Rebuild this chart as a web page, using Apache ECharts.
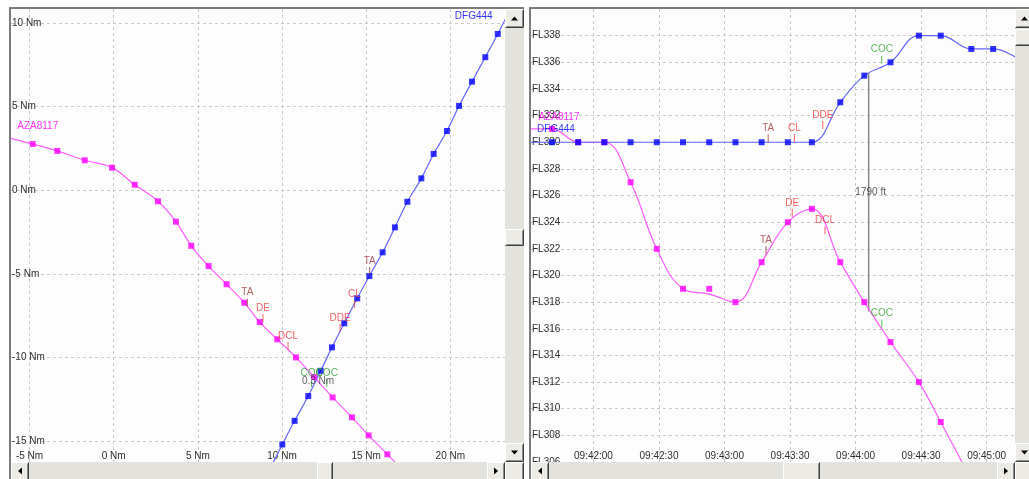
<!DOCTYPE html>
<html>
<head>
<meta charset="utf-8">
<script src="https://cdn.jsdelivr.net/npm/echarts@6/dist/echarts.min.js"></script>
<style>
  html, body { margin: 0; padding: 0; background: #ffffff; }
  #chart { width: 1029px; height: 479px; }
</style>
</head>
<body>
<div id="chart"></div>
<script>
// ---------- Horizontal view: positions in Nm ----------
const planTicksX = [-5, 0, 5, 10, 15, 20];
const planTicksY = [-15, -10, -5, 0, 5, 10];

const azaPlanX = [-6.25, -4.81, -3.35, -1.72, -0.10, 1.25, 2.63, 3.70, 4.61, 5.64, 6.71, 7.76, 8.68, 9.72, 10.83, 11.90, 13.01, 14.16, 15.15, 16.26, 17.35];
const azaPlanY = [3.15, 2.77, 2.36, 1.80, 1.36, 0.34, -0.65, -1.87, -3.31, -4.52, -5.61, -6.71, -7.87, -8.90, -9.98, -11.15, -12.37, -13.56, -14.64, -15.77, -16.90];

const dfgPlanX = [9.28, 10.02, 10.75, 11.56, 12.30, 12.97, 13.70, 14.47, 15.19, 15.98, 16.71, 17.45, 18.28, 19.01, 19.80, 20.52, 21.29, 22.08, 22.82, 23.55];
const dfgPlanY = [-16.65, -15.18, -13.77, -12.29, -10.78, -9.38, -7.94, -6.45, -5.12, -3.70, -2.21, -0.68, 0.72, 2.18, 3.55, 5.05, 6.50, 7.96, 9.35, 10.80];

const azaPlanEvents = ['TA', 'DE', 'DCL', 'COC'];
const azaPlanEventX = [7.94, 8.87, 10.36, 11.76];
const azaPlanEventY = [-6.95, -7.87, -9.54, -11.75];

const dfgPlanEvents = ['TA', 'CL', 'DDE', 'COC'];
const dfgPlanEventX = [15.21, 14.30, 13.45, 12.66];
const dfgPlanEventY = [-5.06, -7.03, -8.46, -11.75];

const cpaText = '0.3 Nm';
const cpaPoint = [12.14, -11.39];

const azaName = 'AZA8117';
const dfgName = 'DFG444';

// ---------- Vertical view: flight level against time ----------
const flTicks = [306, 308, 310, 312, 314, 316, 318, 320, 322, 324, 326, 328, 330, 332, 334, 336, 338];
const timeTicks = ['09:42:00', '09:42:30', '09:43:00', '09:43:30', '09:44:00', '09:44:30', '09:45:00'];

const plotTimes = ['09:41:29', '09:41:41', '09:41:53', '09:42:05', '09:42:17', '09:42:29', '09:42:41', '09:42:53',
                   '09:43:05', '09:43:17', '09:43:29', '09:43:40', '09:43:53', '09:44:04', '09:44:16', '09:44:29',
                   '09:44:39', '09:44:53', '09:45:03', '09:45:15'];
const azaPlotFL  = [331, 331, 330, 330, 327, 322, 319, 319,   318, 321, 324, 325, 321, 318, 315, 312, 309, 304.6, 301, 298];
const azaTrackFL = [331, 331, 330, 330, 327, 322, 319, 318.6, 318, 321, 324, 325, 321, 318, 315, 312, 309, 304.6, 301, 298];
const dfgPlotFL  = [330, 330, 330, 330, 330, 330, 330, 330, 330, 330, 330, 330, 333, 335, 336, 338, 338, 337, 337, 336.2];

const azaVertEvents = ['TA', 'DE', 'DCL', 'COC'];
const azaVertEventTime = ['09:43:19', '09:43:31', '09:43:46', '09:44:12'];
const azaVertEventFL = [321.6, 324.4, 323.1, 316.1];

const dfgVertEvents = ['TA', 'CL', 'DDE', 'COC'];
const dfgVertEventTime = ['09:43:20', '09:43:32', '09:43:45', '09:44:12'];
const dfgVertEventFL = [330, 330, 331, 335.9];

const sepTime = '09:44:06';
const sepUpperFL = 335.2;
const sepLowerFL = 317.3;

// ---------- helpers ----------
const FONT = 'Liberation Sans';
const PINK = '#ff00ff', PINK_LINE = '#ff5cff';
const BLUE = '#0000ff', BLUE_LINE = '#6565ff';
const EVENT_COLORS = { TA: '#a23b3b', DE: '#f03a3a', DCL: '#f03a3a', CL: '#f03a3a', DDE: '#f03a3a', COC: '#34a034' };

function toSec(t) {
  const p = t.split(':').map(Number);
  return p[0] * 3600 + p[1] * 60 + p[2];
}
function fmtTime(v) {
  const h = Math.floor(v / 3600), m = Math.floor((v % 3600) / 60), s = Math.round(v % 60);
  return [h, m, s].map(n => String(n).padStart(2, '0')).join(':');
}
function zip(a, b) { return a.map((v, i) => [v, b[i]]); }

const gridLine = { show: true, lineStyle: { color: '#c9c9c9', type: [3, 3], width: 1 } };
const tickLabel = { color: '#2e2e2e', fontFamily: FONT, fontSize: 10 };

function trackLine(xi, data, color) {
  return { type: 'line', xAxisIndex: xi, yAxisIndex: xi, data, smooth: 0.4, showSymbol: false,
           lineStyle: { color, width: 1.2 }, z: 3, silent: true };
}
function plotPoints(xi, data, color) {
  return { type: 'scatter', xAxisIndex: xi, yAxisIndex: xi, data, symbol: 'rect', symbolSize: 6,
           itemStyle: { color }, z: 4, silent: true };
}
function eventMarks(xi, names, data) {
  return { type: 'scatter', xAxisIndex: xi, yAxisIndex: xi, silent: true, z: 5,
    data: data.map((d, i) => ({
      value: d,
      itemStyle: { color: EVENT_COLORS[names[i]] },
      label: { show: true, formatter: names[i], color: EVENT_COLORS[names[i]] }
    })),
    symbol: 'rect', symbolSize: [1, 8], symbolOffset: [0, -4],
    label: { position: 'top', distance: 1, fontFamily: FONT, fontSize: 10 }
  };
}
function textMark(xi, point, text, color, offset) {
  return { type: 'scatter', xAxisIndex: xi, yAxisIndex: xi, silent: true, z: 6,
    data: [point], symbolSize: 0,
    label: { show: true, position: 'inside', offset, formatter: text, color, fontFamily: FONT, fontSize: 10 } };
}

// ---------- window chrome: frames and scroll bars ----------
const FACE = '#ecebe6', TRACK = '#e4e2dc', SHADOW = '#8d8d8d', DARK = '#404040';
function bevel(x, y, w, h) {
  return [
    { type: 'rect', shape: { x, y, width: w, height: h }, style: { fill: FACE }, z: 100 },
    { type: 'polyline', shape: { points: [[x + 0.5, y + h - 0.5], [x + 0.5, y + 0.5], [x + w - 0.5, y + 0.5]] },
      style: { stroke: '#ffffff', fill: null, lineWidth: 1 }, z: 101 },
    { type: 'polyline', shape: { points: [[x + 1.5, y + h - 1.5], [x + w - 1.5, y + h - 1.5], [x + w - 1.5, y + 1.5]] },
      style: { stroke: SHADOW, fill: null, lineWidth: 1 }, z: 101 },
    { type: 'polyline', shape: { points: [[x + 0.5, y + h - 0.5], [x + w - 0.5, y + h - 0.5], [x + w - 0.5, y + 0.5]] },
      style: { stroke: DARK, fill: null, lineWidth: 1 }, z: 101 }
  ];
}
function arrow(cx, cy, dir) {
  const pts = {
    up: [[cx - 3.5, cy + 2], [cx + 3.5, cy + 2], [cx, cy - 2]],
    down: [[cx - 3.5, cy - 2], [cx + 3.5, cy - 2], [cx, cy + 2]],
    left: [[cx + 2, cy - 3.5], [cx + 2, cy + 3.5], [cx - 2, cy]],
    right: [[cx - 2, cy - 3.5], [cx - 2, cy + 3.5], [cx + 2, cy]]
  }[dir];
  return { type: 'polygon', shape: { points: pts }, style: { fill: '#000000' }, z: 102 };
}
function panelChrome(p) {
  const els = [];
  // sunken frame edges
  els.push({ type: 'rect', shape: { x: p.x0 - 2, y: 7, width: 2, height: 479 - 7 }, style: { fill: '#7c7c7c' }, z: 99 });
  els.push({ type: 'rect', shape: { x: p.x0 - 2, y: 7, width: p.x1 + p.sbw - p.x0 + 2, height: 2 }, style: { fill: '#7c7c7c' }, z: 99 });
  // vertical bar
  els.push({ type: 'rect', shape: { x: p.x1, y: 9, width: p.sbw, height: 453 }, style: { fill: TRACK }, z: 100 });
  els.push(...bevel(p.x1, 9, p.sbw, 19), arrow(p.x1 + p.sbw / 2, 18.5, 'up'));
  els.push(...bevel(p.x1, 443, p.sbw, 19), arrow(p.x1 + p.sbw / 2, 452.5, 'down'));
  els.push(...bevel(p.x1, p.vThumb, p.sbw, 17));
  // horizontal bar
  els.push({ type: 'rect', shape: { x: p.x0, y: 462, width: p.x1 - p.x0, height: 17 }, style: { fill: TRACK }, z: 100 });
  els.push(...bevel(p.x0, 462, 18, 19), arrow(p.x0 + 9, 471, 'left'));
  els.push(...bevel(p.x1 - 18, 462, 18, 19), arrow(p.x1 - 9, 471, 'right'));
  els.push(...bevel(p.hThumb, 462, p.hThumbW, 19));
  // corner box
  els.push(...bevel(p.x1, 462, p.sbw, 19));
  return els;
}

// ---------- chart ----------
const chart = echarts.init(document.getElementById('chart'), null, { renderer: 'canvas' });

const timeTickVals = timeTicks.map(toSec);
const plotSecs = plotTimes.map(toSec);

const option = {
  animation: false,
  backgroundColor: '#ffffff',
  grid: [
    { left: 11, top: 9, width: 494, height: 453, show: true, backgroundColor: '#fdfdfd', borderWidth: 0 },
    { left: 531, top: 9, width: 484, height: 453, show: true, backgroundColor: '#fdfdfd', borderWidth: 0 }
  ],
  xAxis: [
    { gridIndex: 0, type: 'value', min: -6.10, max: 23.25,
      axisLine: { show: false }, axisTick: { show: false, customValues: planTicksX },
      axisLabel: Object.assign({ inside: true, margin: 1, customValues: planTicksX, formatter: v => v + ' Nm' }, tickLabel),
      splitLine: gridLine },
    { gridIndex: 1, type: 'value', min: toSec('09:41:31') + 0.4, max: toSec('09:45:13'),
      axisLine: { show: false }, axisTick: { show: false, customValues: timeTickVals },
      axisLabel: Object.assign({ inside: true, margin: 1, customValues: timeTickVals, formatter: fmtTime }, tickLabel),
      splitLine: gridLine }
  ],
  yAxis: [
    { gridIndex: 0, type: 'value', min: -16.23, max: 10.84,
      axisLine: { show: false }, axisTick: { show: false, customValues: planTicksY },
      axisLabel: Object.assign({ inside: true, margin: 1, align: 'left', customValues: planTicksY, formatter: v => v + ' Nm' }, tickLabel),
      splitLine: gridLine },
    { gridIndex: 1, type: 'value', min: 306, max: 340,
      axisLine: { show: false }, axisTick: { show: false, customValues: flTicks },
      axisLabel: Object.assign({ inside: true, margin: 1, align: 'left', customValues: flTicks, formatter: v => 'FL' + v }, tickLabel),
      splitLine: gridLine }
  ],
  series: [
    // horizontal view
    trackLine(0, zip(azaPlanX, azaPlanY), PINK_LINE),
    plotPoints(0, zip(azaPlanX, azaPlanY), PINK),
    trackLine(0, zip(dfgPlanX, dfgPlanY), BLUE_LINE),
    plotPoints(0, zip(dfgPlanX, dfgPlanY), BLUE),
    eventMarks(0, azaPlanEvents, zip(azaPlanEventX, azaPlanEventY)),
    eventMarks(0, dfgPlanEvents, zip(dfgPlanEventX, dfgPlanEventY)),
    textMark(0, cpaPoint, cpaText, '#3a3a3a', [0, 0]),
    textMark(0, [azaPlanX[1], azaPlanY[1]], azaName, PINK, [5, -18]),
    textMark(0, [dfgPlanX[18], dfgPlanY[18]], dfgName, BLUE, [-24, -18]),
    // vertical view
    trackLine(1, zip(plotSecs, azaTrackFL), PINK_LINE),
    plotPoints(1, zip(plotSecs, azaPlotFL), PINK),
    trackLine(1, zip(plotSecs, dfgPlotFL), BLUE_LINE),
    plotPoints(1, zip(plotSecs, dfgPlotFL), BLUE),
    eventMarks(1, azaVertEvents, zip(azaVertEventTime.map(toSec), azaVertEventFL)),
    eventMarks(1, dfgVertEvents, zip(dfgVertEventTime.map(toSec), dfgVertEventFL)),
    // vertical separation at the closest point
    { type: 'line', xAxisIndex: 1, yAxisIndex: 1, silent: true, z: 2, showSymbol: false,
      data: [[toSec(sepTime), sepLowerFL], [toSec(sepTime), sepUpperFL]],
      lineStyle: { color: '#8a8a8a', width: 1.5 } },
    textMark(1, [toSec(sepTime), (sepUpperFL + sepLowerFL) / 2],
      Math.round((sepUpperFL - sepLowerFL) * 100) + ' ft', '#333333', [2, 0]),
    textMark(1, [plotSecs[1], azaPlotFL[1]], azaName, PINK, [7, -12]),
    textMark(1, [plotSecs[1], dfgPlotFL[1]], dfgName, BLUE, [4, -13])
  ],
  graphic: [
    ...panelChrome({ x0: 11, x1: 505, sbw: 19, vThumb: 229, hThumb: 317, hThumbW: 16 }),
    ...panelChrome({ x0: 531, x1: 1015, sbw: 19, vThumb: 29, hThumb: 783, hThumbW: 37 })
  ]
};

chart.setOption(option);
</script>
</body>
</html>
